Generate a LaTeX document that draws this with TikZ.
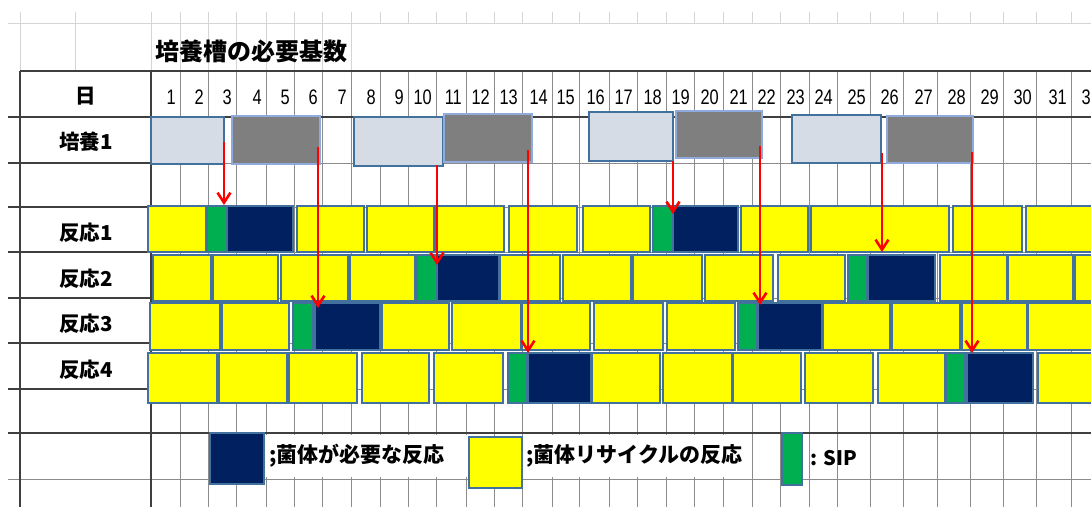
\documentclass[tikz,border=0pt]{standalone}
\usepackage{fontspec}
\usetikzlibrary{arrows.meta,calc}
\newfontfamily\jp{Noto Sans CJK JP}
\newfontfamily\numf{Liberation Sans}[FakeStretch=0.78]
\definecolor{cY}{HTML}{FFFF00}
\definecolor{cG}{HTML}{00B050}
\definecolor{cN}{HTML}{002060}
\definecolor{cL}{HTML}{D6DCE5}
\definecolor{cD}{HTML}{7F7F7F}
\definecolor{bordB}{HTML}{41719C}
\definecolor{bordD}{HTML}{8FAADC}
\definecolor{gridG}{HTML}{8C8C8C}
\definecolor{gridL}{HTML}{D4D4D4}
\definecolor{gridD}{HTML}{3F3F3F}
\newcommand{\blk}[6]{\node[#1, anchor=north west, minimum width={(#5-#3)*1pt}, minimum height={(#6-#4)*1pt}] (#2) at (#3,#4) {};}
\begin{document}
\begin{tikzpicture}[x=1pt,y=-1pt,
  rblk/.style={draw=bordB, line width=1.3pt, fill=#1, inner sep=0pt, outer sep=0pt},
  lblk/.style={draw=bordB, line width=1.8pt, fill=cL, inner sep=0pt, outer sep=0pt},
  dblk/.style={draw=bordD, line width=1.8pt, fill=cD, inner sep=0pt, outer sep=0pt},
  redarr/.style={draw=red, line width=2.6pt, -{Straight Barb[length=10pt,width=13pt,line width=2.6pt]}},
  daynum/.style={font=\numf\fontsize{21}{22}\selectfont, anchor=east, inner sep=0pt},
  rowlab/.style={font=\jp\bfseries\fontsize{20.5}{22}\selectfont, inner sep=0pt},
  legtxt/.style={font=\jp\bfseries\fontsize{21}{22}\selectfont, fill=white, anchor=west, align=left, inner ysep=0pt, minimum height=42pt},
  gl/.style={draw=gridL, line width=0.8pt},
  gg/.style={draw=gridG, line width=0.9pt},
  gd/.style={draw=gridD, line width=1.1pt}
]
\useasboundingbox (0,0) rectangle (1091,507);
\fill[white] (0,0) rectangle (1091,507);

% ---- light sheet grid at top ----
\draw[gl] (8,23) -- (1091,23);
\foreach \x in {20,75,151,180,208,236,266,294,322,351}
  \draw[gl] (\x,12) -- (\x,71);
\foreach \x in {380,408,436,466,494,522,552,579,609,637,666,694,723,752,780,809,837,870,903,937,970,1003,1036,1071}
  \draw[gl] (\x,12) -- (\x,23);

% ---- day area grid ----
\foreach \x in {180,208,236,266,294,322,351,380,408,436,466,494,522,552,579,609,637,666,694,723,752,780,809,837,870,903,937,970,1003,1036,1071}
  \draw[gg] (\x,71) -- (\x,507);
\foreach \y in {163,207,252,298,343,389}
  \draw[gg] (151,\y) -- (1091,\y);
\draw[gg] (8,479) -- (1091,479);
% ---- table borders ----
\draw[gd] (20,71) -- (1091,71);
\draw[gd] (8,117) -- (1091,117);
\draw[gd] (8,433) -- (1091,433);
\foreach \y in {163,207,252,298,343,389}
  \draw[gd] (8,\y) -- (151,\y);
\draw[gd] (20,71) -- (20,507);
\draw[gd] (151,71) -- (151,507);

% ---- title ----
\node[font=\jp\bfseries\fontsize{24}{26}\selectfont, anchor=west, inner sep=0pt] (title) at (155,51) {培養槽の必要基数};

% ---- row labels ----
\node[rowlab] (lday) at (86,96) {日};
\node[rowlab] (lc1) at (86,142) {培養1};
\node[rowlab] (lr1) at (86,233) {反応1};
\node[rowlab] (lr2) at (86,279) {反応2};
\node[rowlab] (lr3) at (86,324) {反応3};
\node[rowlab] (lr4) at (86,370) {反応4};

% ---- day numbers ----
\foreach \r [count=\d] in {180,208,236,266,294,322,351,380,408,436,466,494,522,552,579,609,637,666,694,723,752,780,809,837,870,903,937,970,1003,1036,1071,1104}
  \node[daynum] (d\d) at (\r-4,97) {\d};

% ---- culture row ----
\blk{lblk}{c1}{151}{117}{224}{164}
\blk{dblk}{c2}{232}{116}{320}{164}
\blk{lblk}{c3}{354}{117}{443}{166}
\blk{dblk}{c4}{444}{114}{532}{162}
\blk{lblk}{c5}{589}{112}{673}{161}
\blk{dblk}{c6}{676}{111}{762}{158}
\blk{lblk}{c7}{792}{115}{881}{163}
\blk{dblk}{c8}{887}{116}{973}{163}

% ---- reaction rows ----
\foreach \c/\a/\b [count=\i] in {cY/148/206, cG/207/227, cN/227/293, cY/297/364, cY/367/434, cY/436/504, cY/509/577, cY/583/650, cG/653/673, cN/673/738, cY/741/808, cY/811/949, cY/953/1022, cY/1026/1095}
  {\blk{rblk=\c}{r1b\i}{\a}{206}{\b}{252}}
\foreach \c/\a/\b [count=\i] in {cY/153/211, cY/213/278, cY/281/348, cY/350/415, cG/417/437, cN/437/499, cY/500/560, cY/563/631, cY/633/702, cY/705/773, cY/778/845, cG/848/867, cN/868/935, cY/940/1007, cY/1008/1073, cY/1075/1095}
  {\blk{rblk=\c}{r2b\i}{\a}{255}{\b}{301}}
\foreach \c/\a/\b [count=\i] in {cY/150/220, cY/222/289, cG/293/313, cN/315/380, cY/382/449, cY/452/521, cY/522/590, cY/594/663, cY/667/735, cG/738/757, cN/758/822, cY/823/890, cY/892/960, cY/962/1027, cY/1028/1095}
  {\blk{rblk=\c}{r3b\i}{\a}{303}{\b}{350}}
\foreach \c/\a/\b [count=\i] in {cY/148/217, cY/219/287, cY/289/357, cY/362/429, cY/434/503, cG/508/527, cN/528/591, cY/592/660, cY/663/732, cY/733/801, cY/805/873, cY/878/945, cG/946/965, cN/967/1033, cY/1038/1095}
  {\blk{rblk=\c}{r4b\i}{\a}{353}{\b}{403}}

% ---- legend ----
\blk{rblk=cN}{lgN}{210}{433}{264}{484}
\node[legtxt, text width=195pt, inner xsep=3pt] (lgNt) at (266,456) {;菌体が必要な反応};
\blk{rblk=cY}{lgY}{469}{437}{522}{488}
\node[legtxt, text width=220pt, inner xsep=2pt] (lgYt) at (524,456) {;菌体リサイクルの反応};
\blk{rblk=cG}{lgG}{782}{433}{802}{485}
\node[font=\jp\bfseries\fontsize{20}{22}\selectfont, anchor=west, inner sep=0pt] (lgGt) at (810,458) {: SIP};

% ---- arrows ----
\coordinate (s1) at (224,142);
\coordinate (s2) at (318,147);
\coordinate (s3) at (437,165);
\coordinate (s4) at (528,150);
\coordinate (s5) at (673,161);
\coordinate (s6) at (760,146);
\coordinate (s7) at (882,153);
\coordinate (s8) at (972,152);
\draw[redarr, shorten >=1pt] (s1) -- (s1 |- r1b3.north);
\draw[redarr, shorten >=-5pt] (s2) -- (s2 |- r3b4.north);
\draw[redarr, shorten >=-10pt] (s3) -- (s3 |- r2b6.north);
\draw[redarr] (s4) -- (s4 |- r4b7.north);
\draw[redarr, shorten >=-8pt] (s5) -- (s5 |- r1b10.north);
\draw[redarr, shorten >=-2pt] (s6) -- (s6 |- r3b11.north);
\draw[redarr, shorten >=3pt] (s7) -- (s7 |- r2b13.north);
\draw[redarr] (s8) -- (s8 |- r4b14.north);
\end{tikzpicture}
\end{document}
